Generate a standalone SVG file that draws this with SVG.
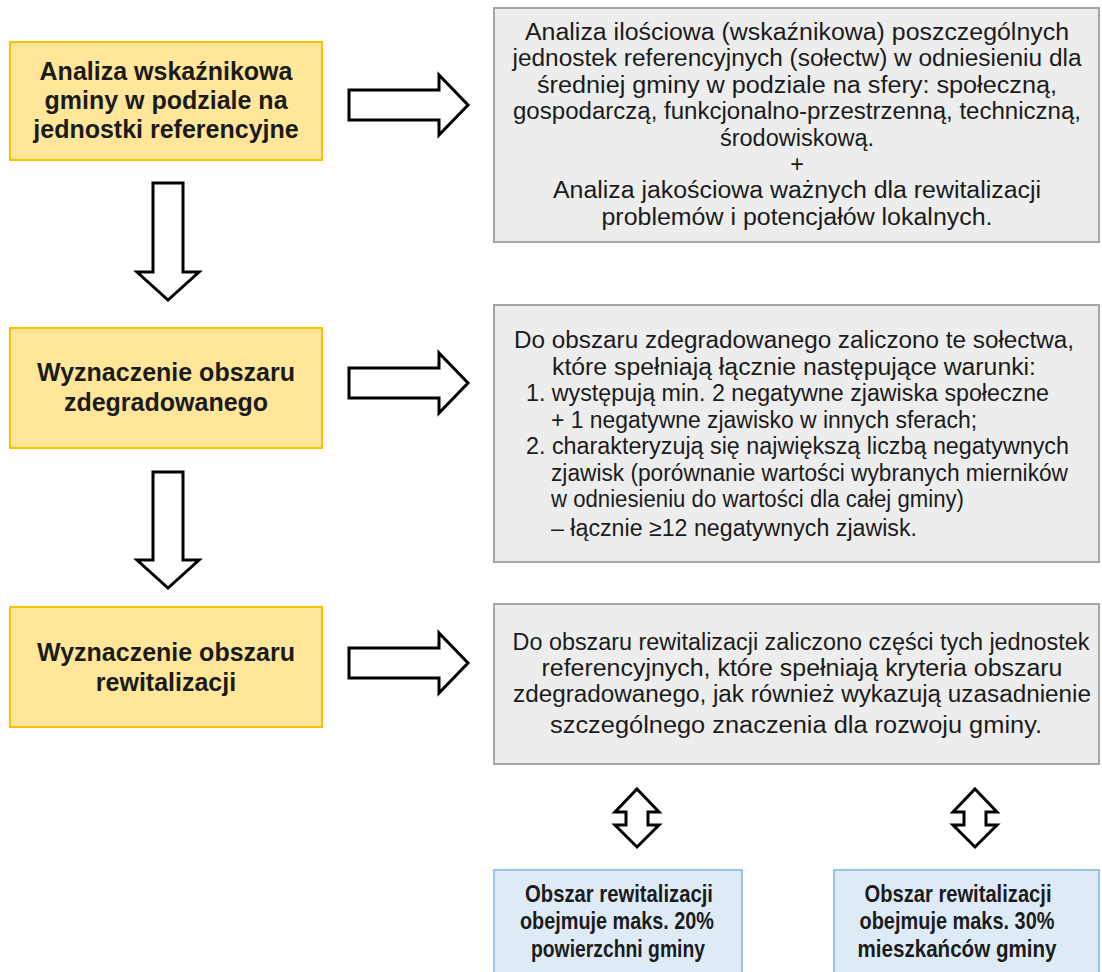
<svg xmlns="http://www.w3.org/2000/svg" width="1102" height="972" viewBox="0 0 1102 972">
<style>
.y{fill:#FFE699;stroke:#FFC000;stroke-width:2}
.g{fill:#EDEDED;stroke:#A6A6A6;stroke-width:2}
.b{fill:#DEEBF7;stroke:#9DC3E6;stroke-width:2}
.ar{fill:#FFFFFF;stroke:#000000;stroke-width:3;stroke-linejoin:miter}
text{font-family:"Liberation Sans",Arial,sans-serif;fill:#1b1b1b}
.tb{font-weight:bold;font-size:25px;text-anchor:middle}
.ts{font-weight:bold;font-size:24px;text-anchor:middle}
.tr{font-size:23.5px}
.c{text-anchor:middle}
</style>
<rect width="1102" height="972" fill="#FFFFFF"/>
<g id="connectors">
<path class="ar" d="M349,90 H439 V75 L468,105 L439,135 V120 H349 Z"/>
<path class="ar" d="M349,368 H439 V353 L468,383 L439,413 V398 H349 Z"/>
<path class="ar" d="M349,648 H439 V633 L468,663 L439,693 V678 H349 Z"/>
<path class="ar" d="M153,183 H183 V272 H199 L168,300 L137,272 H153 Z"/>
<path class="ar" d="M153,472 H183 V560 H199 L168,588 L137,560 H153 Z"/>
<path class="ar" d="M637,789 L659,812 H648 V825 H659 L637,847 L615,825 H626 V812 H615 Z"/>
<path class="ar" d="M975,789 L997,812 H986 V825 H997 L975,847 L953,825 H964 V812 H953 Z"/>
</g>
<g id="step1">
<rect class="y" x="10" y="42" width="312" height="118"/>
<text class="tb" x="166" y="80">Analiza wskaźnikowa</text>
<text class="tb" x="166" y="109">gminy w podziale na</text>
<text class="tb" x="166" y="138">jednostki referencyjne</text>
</g>
<g id="step2">
<rect class="y" x="10" y="328" width="312" height="120"/>
<text class="tb" x="166" y="381">Wyznaczenie obszaru</text>
<text class="tb" x="166" y="411">zdegradowanego</text>
</g>
<g id="step3">
<rect class="y" x="10" y="607" width="312" height="120"/>
<text class="tb" x="166" y="661">Wyznaczenie obszaru</text>
<text class="tb" x="166" y="691">rewitalizacji</text>
</g>
<g id="desc1">
<rect class="g" x="494" y="8" width="605" height="234"/>
<text class="tr c" x="797" y="40" textLength="544" lengthAdjust="spacingAndGlyphs">Analiza ilościowa (wskaźnikowa) poszczególnych</text>
<text class="tr c" x="797" y="66.4" textLength="569" lengthAdjust="spacingAndGlyphs">jednostek referencyjnych (sołectw) w odniesieniu dla</text>
<text class="tr c" x="797" y="92.8" textLength="520" lengthAdjust="spacingAndGlyphs">średniej gminy w podziale na sfery: społeczną,</text>
<text class="tr c" x="797" y="119.2" textLength="568" lengthAdjust="spacingAndGlyphs">gospodarczą, funkcjonalno-przestrzenną, techniczną,</text>
<text class="tr c" x="797" y="145.6">środowiskową.</text>
<text class="tr c" x="797" y="172">+</text>
<text class="tr c" x="797" y="198.4" textLength="488" lengthAdjust="spacingAndGlyphs">Analiza jakościowa ważnych dla rewitalizacji</text>
<text class="tr c" x="797" y="224.8" textLength="391" lengthAdjust="spacingAndGlyphs">problemów i potencjałów lokalnych.</text>
</g>
<g id="desc2">
<rect class="g" x="494" y="305" width="605" height="257"/>
<text class="tr" x="514" y="348" textLength="560" lengthAdjust="spacingAndGlyphs">Do obszaru zdegradowanego zaliczono te sołectwa,</text>
<text class="tr" x="552" y="374.5" textLength="484" lengthAdjust="spacingAndGlyphs">które spełniają łącznie następujące warunki:</text>
<text class="tr" x="526" y="401" textLength="523" lengthAdjust="spacingAndGlyphs">1. występują min. 2 negatywne zjawiska społeczne</text>
<text class="tr" x="551" y="427.5" textLength="426" lengthAdjust="spacingAndGlyphs">+ 1 negatywne zjawisko w innych sferach;</text>
<text class="tr" x="526" y="454" textLength="543" lengthAdjust="spacingAndGlyphs">2. charakteryzują się największą liczbą negatywnych</text>
<text class="tr" x="551" y="480.5" textLength="517" lengthAdjust="spacingAndGlyphs">zjawisk (porównanie wartości wybranych mierników</text>
<text class="tr" x="551" y="507" textLength="413" lengthAdjust="spacingAndGlyphs">w odniesieniu do wartości dla całej gminy)</text>
<text class="tr" x="551" y="536" textLength="366" lengthAdjust="spacingAndGlyphs">– łącznie ≥12 negatywnych zjawisk.</text>
</g>
<g id="desc3">
<rect class="g" x="494" y="604" width="605" height="160"/>
<text class="tr c" x="801" y="650" textLength="577" lengthAdjust="spacingAndGlyphs">Do obszaru rewitalizacji zaliczono części tych jednostek</text>
<text class="tr c" x="802" y="676" textLength="521" lengthAdjust="spacingAndGlyphs">referencyjnych, które spełniają kryteria obszaru</text>
<text class="tr c" x="802" y="702" textLength="578" lengthAdjust="spacingAndGlyphs">zdegradowanego, jak również wykazują uzasadnienie</text>
<text class="tr c" x="796" y="733" textLength="492" lengthAdjust="spacingAndGlyphs">szczególnego znaczenia dla rozwoju gminy.</text>
</g>
<g id="limit20">
<rect class="b" x="494" y="870" width="248" height="110"/>
<text class="ts" x="619" y="902" textLength="188" lengthAdjust="spacingAndGlyphs">Obszar rewitalizacji</text>
<text class="ts" x="617" y="929" textLength="194" lengthAdjust="spacingAndGlyphs">obejmuje maks. 20%</text>
<text class="ts" x="618" y="957" textLength="174" lengthAdjust="spacingAndGlyphs">powierzchni gminy</text>
</g>
<g id="limit30">
<rect class="b" x="834" y="870" width="265" height="110"/>
<text class="ts" x="958" y="902" textLength="187" lengthAdjust="spacingAndGlyphs">Obszar rewitalizacji</text>
<text class="ts" x="957" y="929" textLength="195" lengthAdjust="spacingAndGlyphs">obejmuje maks. 30%</text>
<text class="ts" x="957" y="957" textLength="199" lengthAdjust="spacingAndGlyphs">mieszkańców gminy</text>
</g>
</svg>
